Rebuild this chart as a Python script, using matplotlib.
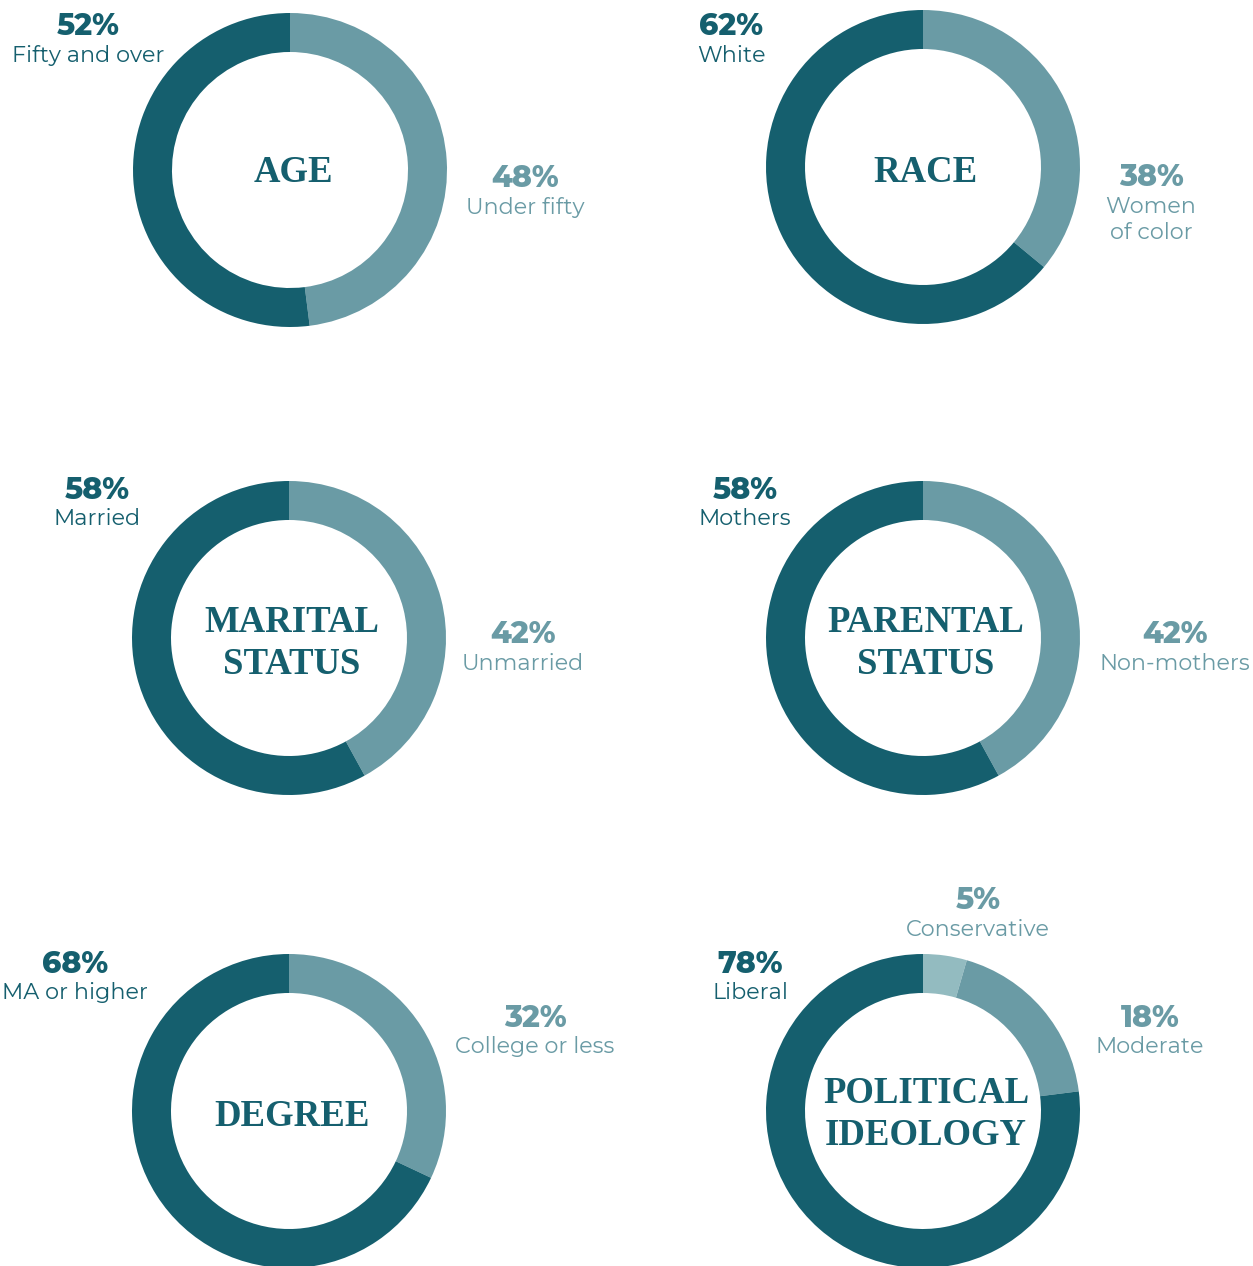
import matplotlib
matplotlib.use("Agg")
import matplotlib.pyplot as plt
from matplotlib import font_manager as fm
from matplotlib.font_manager import FontProperties

W, H = 1253, 1266
DARK = "#155F6E"
MED = "#6A9BA5"
LIGHT = "#93BBC0"

# Data
titles = ["AGE", "RACE", "MARITAL\nSTATUS", "PARENTAL\nSTATUS", "DEGREE", "POLITICAL\nIDEOLOGY"]
# arc sizes as drawn in the picture
values = [
    [48, 52],
    [36, 64],
    [42, 58],
    [42, 58],
    [32, 68],
    [4.5, 18.5, 77],
]
pct_labels = [
    ["48%", "52%"],
    ["38%", "62%"],
    ["42%", "58%"],
    ["42%", "58%"],
    ["32%", "68%"],
    ["5%", "18%", "78%"],
]
cat_labels = [
    ["Under fifty", "Fifty and over"],
    ["Women\nof color", "White"],
    ["Unmarried", "Married"],
    ["Non-mothers", "Mothers"],
    ["College or less", "MA or higher"],
    ["Conservative", "Moderate", "Liberal"],
]
seg_colors = [
    [MED, DARK], [MED, DARK], [MED, DARK], [MED, DARK], [MED, DARK],
    [LIGHT, MED, DARK],
]
text_colors = [
    [MED, DARK], [MED, DARK], [MED, DARK], [MED, DARK], [MED, DARK],
    [MED, MED, DARK],
]

# Layout (pixels)
centers = [(290, 170), (923, 167), (289, 638), (923, 638), (289, 1111), (923, 1111)]
R = 157
title_baselines = [[182], [182], [632, 674], [632, 674], [1126], [1103, 1145]]
# label anchor: (x, pct baseline, first label baseline)
label_pos = [
    [(525, 187, 214), (88, 35, 62)],
    [(1151, 186, 213), (731, 35, 62)],
    [(523, 643, 670), (97, 499, 525)],
    [(1175, 643, 670), (745, 499, 525)],
    [(535, 1027, 1053), (75, 973, 999)],
    [(978, 909, 936), (1150, 1027, 1053), (750, 973, 999)],
]


def make_font(weight, size):
    """Static instance of the variable Montserrat font at a given weight."""
    try:
        from fontTools.ttLib import TTFont
        from fontTools.varLib import instancer
        path = [f.fname for f in fm.fontManager.ttflist
                if f.name == "Montserrat" and f.style == "normal"][0]
        vf = TTFont(path)
        inst = instancer.instantiateVariableFont(vf, {"wght": weight})
        out = f"montserrat_{weight}.ttf"
        inst.save(out)
        return FontProperties(fname=out, size=size)
    except Exception:
        return FontProperties(family=["Montserrat Alternates", "DejaVu Sans"],
                              weight=weight, size=size)


PCT_FONT = make_font(800, 21.5)
LBL_FONT = make_font(400, 16)
TITLE_FONT = FontProperties(family=["Liberation Serif", "DejaVu Serif"],
                            weight="bold", size=26.5)

fig = plt.figure(figsize=(W / 100, H / 100), dpi=100)
fig.patch.set_facecolor("white")


def fx(x):
    return x / W


def fy(y):
    return 1 - y / H


for i in range(6):
    cx, cy = centers[i]
    ax = fig.add_axes([fx(cx - R), fy(cy + R), 2 * R / W, 2 * R / H])
    ax.pie(values[i], colors=seg_colors[i], startangle=90, counterclock=False,
           radius=1, wedgeprops=dict(width=39 / R, linewidth=0))
    ax.set_xlim(-1, 1)
    ax.set_ylim(-1, 1)
    ax.set_aspect("equal")
    ax.axis("off")

    for line, bl in zip(titles[i].split("\n"), title_baselines[i]):
        fig.text(fx(cx + 3), fy(bl), line, ha="center", va="baseline",
                 fontproperties=TITLE_FONT, color=DARK)

    for j, (x, pb, lb) in enumerate(label_pos[i]):
        col = text_colors[i][j]
        fig.text(fx(x), fy(pb), pct_labels[i][j], ha="center", va="baseline",
                 fontproperties=PCT_FONT, color=col)
        for k, line in enumerate(cat_labels[i][j].split("\n")):
            fig.text(fx(x), fy(lb + 26 * k), line, ha="center", va="baseline",
                     fontproperties=LBL_FONT, color=col)

fig.savefig("out.png", dpi=100, facecolor="white")
